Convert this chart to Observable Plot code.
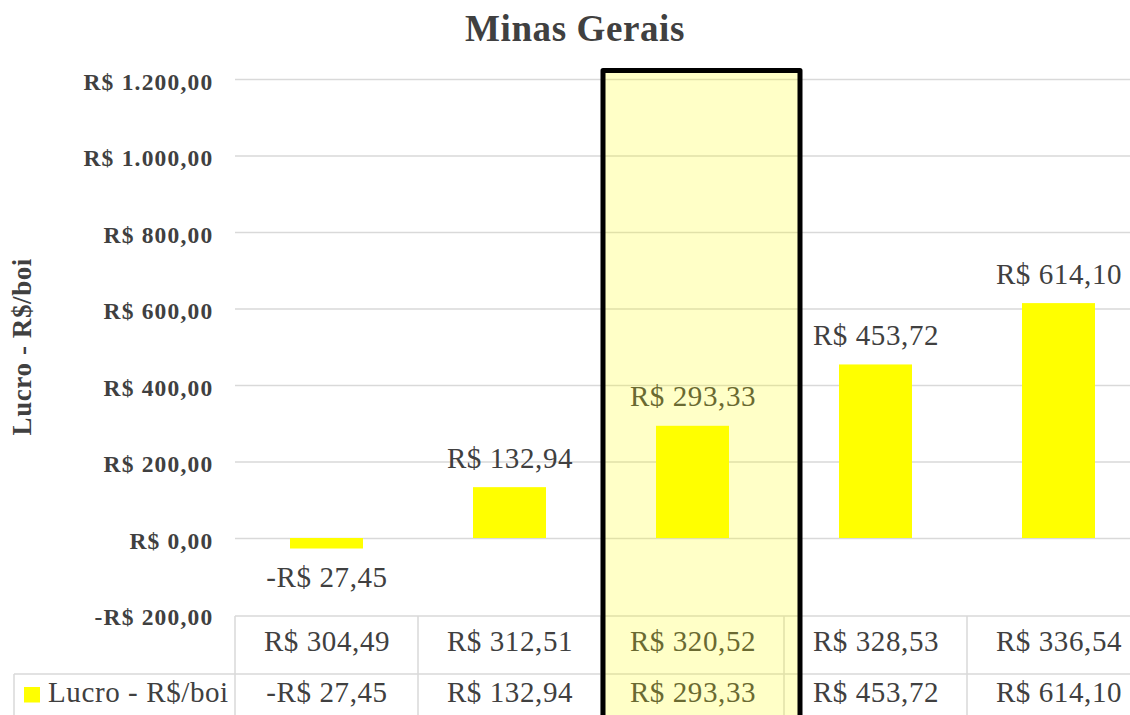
<!DOCTYPE html>
<html>
<head>
<meta charset="utf-8">
<script src="https://cdn.jsdelivr.net/npm/d3@7"></script>
<script src="https://cdn.jsdelivr.net/npm/@observablehq/plot@0.6"></script>
<style>
  html, body { margin: 0; padding: 0; background: #fff; }
  #wrap { width: 1130px; height: 715px; overflow: hidden; position: relative; font-family: 'Liberation Serif', serif; }
  #title { width: 1150px; height: 50px; box-sizing: border-box; padding-top: 11px; line-height: 36px;
           font-size: 37px; letter-spacing: 0.6px; font-weight: bold; text-align: center; color: #404040; }
  .ytick text { letter-spacing: 1.2px; }
  .lbl text, text.lbl { letter-spacing: 0.6px; }
</style>
</head>
<body>
<div id="wrap">
  <div id="title"></div>
  <div id="chart"></div>
</div>
<script>
// ---- data ----
const chartTitle = "Minas Gerais";
const seriesName = "Lucro - R$/boi";
const categories = ["R$ 304,49", "R$ 312,51", "R$ 320,52", "R$ 328,53", "R$ 336,54"];
const profits = [-27.45, 132.94, 293.33, 453.72, 614.10];
const yTicks = [-200, 0, 200, 400, 600, 800, 1000, 1200];
const highlighted = "R$ 320,52";

const data = categories.map((c, i) => ({cat: c, value: profits[i]}));

const loc = d3.formatLocale({decimal: ",", thousands: ".", grouping: [3], currency: ["R$ ", ""]});
const f2 = loc.format(",.2f");
const money = v => (v < 0 ? "-" : "") + "R$ " + f2(Math.abs(v));

document.getElementById("title").textContent = chartTitle;

const W = 1150, H = 690;
const textColor = "#404040";
const gridColor = "#d9d9d9";

const plot = Plot.plot({
  width: W,
  height: H,
  marginLeft: 235,
  marginRight: 0,
  marginTop: 29,
  marginBottom: H - 564.5,
  style: {fontFamily: "'Liberation Serif', serif", fontSize: "29px", color: textColor, maxWidth: "none", overflow: "visible", background: "transparent"},
  x: {domain: categories, padding: 0, axis: null},
  y: {domain: [-200, 1200], axis: null},
  marks: [
    Plot.gridY(yTicks.filter(t => t > -200), {stroke: gridColor, strokeOpacity: 1, strokeWidth: 1.5}),
    Plot.axisY(yTicks, {className: "ytick", tickSize: 0, tickPadding: 22, tickFormat: money, fontWeight: "bold", fontSize: 23.5, fill: textColor, dy: 2.5, label: null}),
    Plot.barY(data, {x: "cat", y: "value", fill: "#ffff00", insetLeft: 55, insetRight: 55}),
    Plot.text(data.filter(d => d.value >= 0), {className: "lbl", x: "cat", y: "value", text: d => money(d.value), dy: -29.3, fontSize: 29, fill: textColor}),
    Plot.text(data.filter(d => d.value < 0), {className: "lbl", x: "cat", y: "value", text: d => money(d.value), dy: 28.7, fontSize: 29, fill: textColor}),
    Plot.text(categories, {className: "lbl", x: d => d, text: d => d, frameAnchor: "bottom", lineAnchor: "middle", dy: 27.2, fontSize: 29, fill: textColor}),
    Plot.text(data, {className: "lbl", x: "cat", text: d => money(d.value), frameAnchor: "bottom", lineAnchor: "middle", dy: 78.2, fontSize: 29, fill: textColor})
  ]
});

document.getElementById("chart").appendChild(plot);

// ---- table lines, legend, axis title, highlight (positioned from the plot's scales) ----
const svg = d3.select(plot);
const xs = plot.scale("x"), ys = plot.scale("y");
const bw = xs.bandwidth;
const y0 = ys.apply(-200);
const tableTop = y0 + 1.5;
const divider = y0 + 59.5;
const xStart = xs.apply(categories[0]);
const legendLeft = 14;

const g = svg.append("g").attr("stroke", gridColor).attr("stroke-width", 1.5);
g.append("line").attr("x1", xStart).attr("x2", W).attr("y1", tableTop).attr("y2", tableTop);
g.append("line").attr("x1", legendLeft).attr("x2", W).attr("y1", divider).attr("y2", divider);
g.append("line").attr("x1", legendLeft).attr("x2", legendLeft).attr("y1", divider).attr("y2", H);
categories.forEach(c => {
  const x = xs.apply(c);
  g.append("line").attr("x1", x).attr("x2", x).attr("y1", tableTop).attr("y2", H);
});
g.append("line").attr("x1", xStart + bw * categories.length).attr("x2", xStart + bw * categories.length).attr("y1", tableTop).attr("y2", H);

// legend cell
svg.append("rect").attr("x", legendLeft + 10).attr("y", divider + 13).attr("width", 16).attr("height", 15.5).attr("fill", "#ffff00");
svg.append("text").attr("class", "lbl").attr("x", legendLeft + 34).attr("y", divider + 28).attr("text-anchor", "start")
  .attr("font-size", 29).attr("fill", textColor).text(seriesName);

// y-axis title
svg.append("text").attr("transform", `translate(31,${(ys.apply(1200) + y0) / 2}) rotate(-90)`)
  .attr("text-anchor", "middle").attr("font-weight", "bold").attr("font-size", 27)
  .attr("letter-spacing", "0.6px").attr("fill", textColor)
  .text(seriesName);

// highlight box around the selected category
const hx = xs.apply(highlighted) + 2;
svg.append("rect")
  .attr("x", hx).attr("y", ys.apply(1200) - 8.5)
  .attr("width", bw + 14).attr("height", H)
  .attr("fill", "#ffff00").attr("fill-opacity", 0.22)
  .attr("stroke", "#000").attr("stroke-width", 5).attr("stroke-linejoin", "round");
</script>
</body>
</html>
